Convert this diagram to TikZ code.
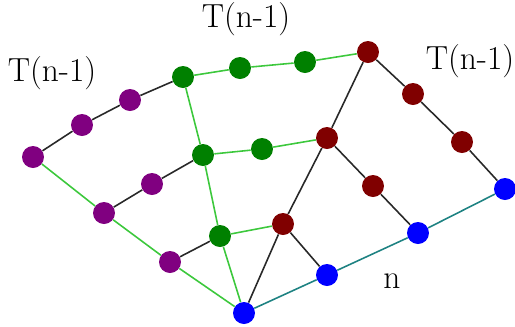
\documentclass[tikz,border=0pt]{standalone}
\usepackage[dvipsnames]{xcolor}
\usepackage{tikz}
\newcommand\dotSize{0.44cm}
\newcommand\edgeW{0.9pt}
\newcommand\labelFont{\fontsize{19}{23}\selectfont}
\definecolor{dotPurple}{RGB}{128,0,128}
\definecolor{dotGreen}{RGB}{0,128,0}
\definecolor{dotRed}{RGB}{128,0,0}
\definecolor{dotBlue}{RGB}{0,0,255}
\definecolor{edgeGreen}{RGB}{60,200,60}
\definecolor{edgeTeal}{RGB}{30,130,130}
\definecolor{edgeGray}{RGB}{40,40,40}
\tikzset{
    dot/.style={circle, inner sep=0pt, minimum size=\dotSize},
    pdot/.style={dot, fill=dotPurple},
    gdot/.style={dot, fill=dotGreen},
    rdot/.style={dot, fill=dotRed},
    bdot/.style={dot, fill=dotBlue},
    grayedge/.style={draw=edgeGray, line width=\edgeW},
    greenedge/.style={draw=edgeGreen, line width=\edgeW},
    tealedge/.style={draw=edgeTeal, line width=\edgeW},
    tlabel/.style={font=\labelFont}
}

\begin{document}
\begin{tikzpicture}[x=0.02cm, y=-0.02cm]
        \useasboundingbox (0,0) rectangle (515,326);

        % left subtree
        \node[pdot] (p1) at (33,157) {};
        \node[pdot] (p2) at (82,125) {};
        \node[pdot] (p3) at (130,100) {};
        \node[pdot] (p4) at (104,213) {};
        \node[pdot] (p5) at (152,184) {};
        \node[pdot] (p6) at (170,262) {};

        % middle subtree
        \node[gdot] (g1) at (183,77) {};
        \node[gdot] (g2) at (240,68) {};
        \node[gdot] (g3) at (305,62) {};
        \node[gdot] (g4) at (203,155) {};
        \node[gdot] (g5) at (262,149) {};
        \node[gdot] (g6) at (220,236) {};

        % right subtree
        \node[rdot] (r1) at (368,52) {};
        \node[rdot] (r2) at (413,94) {};
        \node[rdot] (r3) at (462,142) {};
        \node[rdot] (r4) at (327,138) {};
        \node[rdot] (r5) at (373,186) {};
        \node[rdot] (r6) at (283,224) {};

        % bottom row
        \node[bdot] (root) at (244,313) {};
        \node[bdot] (b1) at (327,275) {};
        \node[bdot] (b2) at (418,233) {};
        \node[bdot] (b3) at (505,189) {};

        \path[grayedge] (p1) -- (p2) -- (p3) -- (g1);
        \path[grayedge] (p4) -- (p5) -- (g4);
        \path[grayedge] (p6) -- (g6);
        \path[grayedge] (r1) -- (r2) -- (r3) -- (b3);
        \path[grayedge] (r4) -- (r5) -- (b2);
        \path[grayedge] (r6) -- (b1);
        \path[grayedge] (r1) -- (r4) -- (r6) -- (root);

        \path[greenedge] (g1) -- (g2) -- (g3) -- (r1);
        \path[greenedge] (g4) -- (g5) -- (r4);
        \path[greenedge] (g6) -- (r6);
        \path[greenedge] (g1) -- (g4) -- (g6) -- (root);
        \path[greenedge] (p1) -- (p4) -- (p6) -- (root);

        \path[tealedge] (root) -- (b1) -- (b2) -- (b3);

        \node[tlabel] (tleft) at (52,73) {T(n-1)};
        \node[tlabel] (tmid) at (246,19) {T(n-1)};
        \node[tlabel] (tright) at (470,61) {T(n-1)};
        \node[tlabel] (nlabel) at (392,281) {n};
    \end{tikzpicture}
\end{document}
